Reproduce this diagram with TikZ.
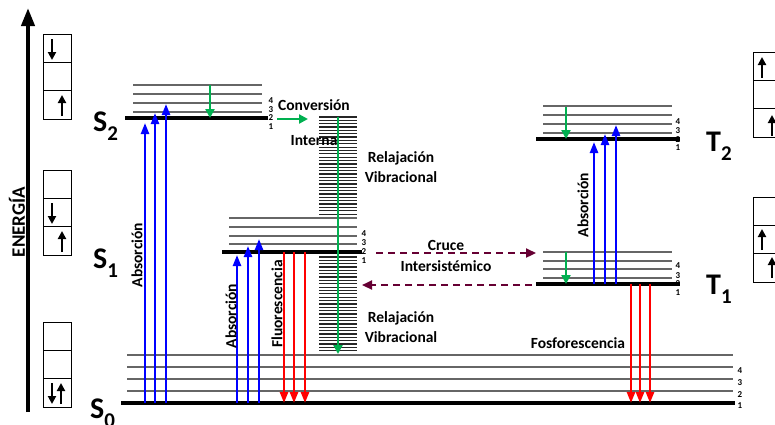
\documentclass[tikz,border=0pt]{standalone}
\usepackage{fontspec}
\setmainfont{Carlito}
\usetikzlibrary{arrows.meta}
\definecolor{absblue}{RGB}{0,0,255}
\definecolor{emired}{RGB}{255,0,0}
\definecolor{relgreen}{RGB}{0,176,80}
\definecolor{iscpurple}{RGB}{102,0,51}
\tikzset{
  level/.style={line width=3.2pt},
  vib/.style={black!60, line width=1.1pt},
  absarrow/.style={absblue, line width=2.3pt, -{Triangle[width=8pt,length=11pt]}},
  emiarrow/.style={emired, line width=2.3pt, -{Triangle[width=8pt,length=11pt]}},
  relarrow/.style={relgreen, line width=2.2pt, -{Triangle[width=9pt,length=9pt]}},
  iscarrow/.style={iscpurple, line width=2.2pt, dash pattern=on 7pt off 5pt, -{Triangle[width=9pt,length=10pt]}},
  lbl/.style={font=\bfseries\fontsize{15.5}{17}\selectfont, inner sep=0pt},
  vlbl/.style={lbl, rotate=90},
  num/.style={font=\bfseries\fontsize{9}{9}\selectfont, inner sep=0pt},
  state/.style={font=\bfseries\fontsize{30}{30}\selectfont, inner sep=0pt, anchor=base west},
  cellbox/.style={draw, line width=1pt},
  spin/.style={line width=2.3pt, -{Triangle[width=8pt,length=8pt]}},
  relline/.style={black!85, line width=1.25pt}
}
\newcommand{\subidx}[1]{\raisebox{-9pt}{\fontsize{21}{21}\selectfont #1}}
\begin{document}
\begin{tikzpicture}[x=1pt, y=-1pt, font=\bfseries]
\useasboundingbox (0,0) rectangle (775,424);
% energy levels
\coordinate (S0) at (0,403); \coordinate (S1) at (0,252); \coordinate (S2) at (0,118);
\coordinate (T1) at (0,284); \coordinate (T2) at (0,139);
% energy axis
\coordinate (ebot) at (28,412); \coordinate (etop) at (28,8);
\draw[line width=4pt, -{Triangle[width=13pt,length=18pt]}] (ebot) -- (etop);
\node[lbl, rotate=90, font=\bfseries\fontsize{19}{20}\selectfont] (energia) at (17,222) {ENERGÍA};
% spin boxes, left
\foreach \t in {34,170,322} {
  \draw[cellbox] (43,\t) rectangle (71,\t+85);
  \draw[cellbox] (43,\t+28.3) -- (71,\t+28.3) (43,\t+56.7) -- (71,\t+56.7);
}
\draw[spin] (52,39) -- (52,60);
\draw[spin] (62,116) -- (62,95);
\draw[spin] (52,203) -- (52,224);
\draw[spin] (62,252) -- (62,231);
\draw[spin] (52,383) -- (52,404);
\draw[spin] (61,404) -- (61,383);
% spin boxes, right
\foreach \t in {52,197} {
  \draw[cellbox] (753,\t) rectangle (800,\t+85);
  \draw[cellbox] (753,\t+28.3) -- (800,\t+28.3) (753,\t+56.7) -- (800,\t+56.7);
}
\draw[spin] (762,78) -- (762,57);
\draw[spin] (772,136) -- (772,115);
\draw[spin] (762,250) -- (762,229);
\draw[spin] (772,278) -- (772,257);
% S0
\foreach \y in {355,367,379,391} \draw[vib] (127,\y) -- (733,\y);
\draw[level] (121,0 |- S0) -- (735,0 |- S0);
\foreach \n/\y in {4/371,3/383,2/395,1/406} \node[num] (s0n\n) at (740,\y) {\n};
\node[state] (S0lbl) at (90,418) {S\subidx{0}};
% S2
\foreach \y in {85,94,103,112} \draw[vib] (133,\y) -- (262,\y);
\draw[level] (125,0 |- S2) -- (268,0 |- S2);
\foreach \n/\d in {4/-17,3/-8,2/0,1/9} \node[num] (s2n\n) at (271,118+\d) {\n};
\node[state] (S2lbl) at (93,131) {S\subidx{2}};
% S1
\foreach \y in {218,227,236,244} \draw[vib] (229,\y) -- (357,\y);
\draw[level] (222,0 |- S1) -- (362,0 |- S1);
\foreach \n/\d in {4/-18,3/-9,2/0,1/9} \node[num] (s1n\n) at (364,252+\d) {\n};
\node[state] (S1lbl) at (93,268) {S\subidx{1}};
% T2
\foreach \y in {106,115,124,133} \draw[vib] (543,\y) -- (672,\y);
\draw[level] (536,0 |- T2) -- (680,0 |- T2);
\foreach \n/\d in {4/-17,3/-8,2/1,1/9} \node[num] (t2n\n) at (678,139+\d) {\n};
\node[state] (T2lbl) at (706,151) {T\subidx{2}};
% T1
\foreach \y in {252,261,269,278} \draw[vib] (543,\y) -- (672,\y);
\draw[level] (536,0 |- T1) -- (680,0 |- T1);
\foreach \n/\d in {4/-18,3/-8,2/0,1/9} \node[num] (t1n\n) at (678,284+\d) {\n};
\node[state] (T1lbl) at (706,294) {T\subidx{1}};
% vibrational relaxation columns
\foreach \k in {0,...,29} \draw[relline] (319,117+3.35*\k) -- (357,117+3.35*\k);
\foreach \k in {0,...,28} \draw[relline] (319,257+3.35*\k) -- (357,257+3.35*\k);
\coordinate (rtop) at (338,117); \coordinate (rbot) at (338,354);
\draw[relarrow] (rtop) -- (rbot);
% green relaxations inside levels
\draw[relarrow] (210,85) -- (210,0 |- S2);
\draw[relarrow] (566,107) -- (566,0 |- T2);
\draw[relarrow] (566,252) -- (566,0 |- T1);
\coordinate (icA) at (277,119); \coordinate (icB) at (308,119);
\draw[relarrow] (icA) -- (icB);
% absorption
\foreach \x/\e in {145/123,155/113,166/104} \draw[absarrow] (\x,0 |- S0) -- (\x,\e);
\foreach \x/\e in {237/255,248/246,259/239} \draw[absarrow] (\x,0 |- S0) -- (\x,\e);
\foreach \x/\e in {594/142,605/134,616/125} \draw[absarrow] (\x,0 |- T1) -- (\x,\e);
% emission
\foreach \x in {284,294,305} \draw[emiarrow] (\x,0 |- S1) -- (\x,0 |- S0);
\foreach \x in {631,640,650} \draw[emiarrow] (\x,0 |- T1) -- (\x,0 |- S0);
% intersystem crossing
\coordinate (iscA) at (376,253); \coordinate (iscB) at (536,253);
\coordinate (iscC) at (532,285); \coordinate (iscD) at (362,285);
\draw[iscarrow] (iscA) -- (iscB);
\draw[iscarrow] (iscC) -- (iscD);
% labels
\node[lbl] (conv) at (314,105) {Conversión};
\node[lbl] (intern) at (314,141) {Interna};
\node[lbl] (rel1) at (401,158) {Relajación};
\node[lbl] (vib1) at (401,177) {Vibracional};
\node[lbl] (rel2) at (401,318) {Relajación};
\node[lbl] (vib2) at (401,337) {Vibracional};
\node[lbl] (cruce) at (446,245) {Cruce};
\node[lbl] (inters) at (446,266) {Intersistémico};
\node[lbl] (fosfo) at (578,343) {Fosforescencia};
\node[vlbl] (abs1) at (137,255) {Absorción};
\node[vlbl] (abs2) at (231,316) {Absorción};
\node[vlbl] (fluo) at (277,304) {Fluorescencia};
\node[vlbl] (abs3) at (583,205) {Absorción};
\end{tikzpicture}
\end{document}
